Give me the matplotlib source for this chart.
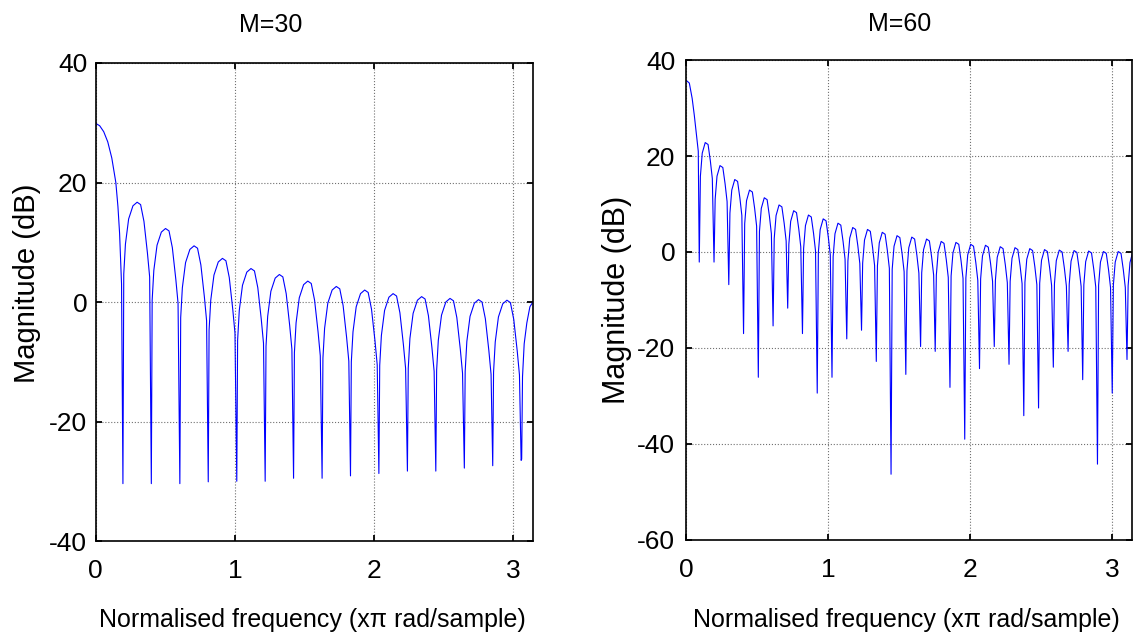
import numpy as np
import matplotlib
matplotlib.use('Agg')
import matplotlib.pyplot as plt
from matplotlib import font_manager

# M=30 response (x in rad/sample, y in dB)
freq30 = [0.000, 0.029, 0.058, 0.087, 0.116, 0.145, 0.160, 0.172, 0.186,
          0.196, 0.202, 0.214, 0.237, 0.268, 0.298, 0.323, 0.347, 0.372, 0.388,
          0.400, 0.406, 0.418, 0.441, 0.472, 0.502, 0.527, 0.551, 0.576, 0.592,
          0.605, 0.611, 0.623, 0.646, 0.677, 0.707, 0.732, 0.756, 0.781, 0.797,
          0.809, 0.815, 0.827, 0.850, 0.881, 0.911, 0.936, 0.960, 0.985, 1.001,
          1.014, 1.020, 1.032, 1.055, 1.086, 1.116, 1.141, 1.165, 1.190, 1.206,
          1.218, 1.224, 1.236, 1.259, 1.290, 1.320, 1.345, 1.369, 1.394, 1.410,
          1.422, 1.428, 1.440, 1.463, 1.494, 1.524, 1.549, 1.573, 1.598, 1.614,
          1.627, 1.633, 1.645, 1.668, 1.699, 1.729, 1.754, 1.778, 1.803, 1.819,
          1.831, 1.837, 1.849, 1.872, 1.903, 1.933, 1.958, 1.982, 2.007, 2.023,
          2.035, 2.041, 2.053, 2.076, 2.107, 2.137, 2.162, 2.186, 2.211, 2.227,
          2.240, 2.246, 2.258, 2.281, 2.312, 2.342, 2.367, 2.391, 2.416, 2.432,
          2.444, 2.450, 2.462, 2.485, 2.516, 2.546, 2.571, 2.595, 2.620, 2.636,
          2.649, 2.655, 2.667, 2.690, 2.721, 2.751, 2.776, 2.800, 2.825, 2.841,
          2.853, 2.859, 2.871, 2.894, 2.925, 2.955, 2.980, 3.004, 3.029, 3.045,
          3.057, 3.061, 3.067, 3.079, 3.098, 3.120, 3.1416]
mag30 = [29.9, 29.5, 28.5, 26.8, 24.1, 20.0, 16.0, 11.5, 3.0,
         -30.4, 4.7, 9.7, 13.9, 16.1, 16.7, 16.3, 13.5, 8.2, 4.2,
         -30.4, 0.3, 5.3, 9.5, 11.7, 12.3, 11.9, 9.1, 3.8, -0.2,
         -30.4, -2.6, 2.4, 6.6, 8.8, 9.4, 9.0, 6.2, 0.9, -3.1,
         -30.1, -4.7, 0.3, 4.5, 6.7, 7.3, 6.9, 4.1, -1.2, -5.2,
         -30.0, -6.4, -1.4, 2.8, 5.0, 5.6, 5.2, 2.4, -2.9, -6.9,
         -30.0, -7.4, -2.4, 1.8, 4.0, 4.6, 4.2, 1.4, -3.9, -7.9,
         -29.5, -8.5, -3.5, 0.7, 2.9, 3.5, 3.1, 0.3, -5.0, -9.0,
         -29.5, -9.4, -4.4, -0.2, 2.0, 2.6, 2.2, -0.6, -5.9, -9.9,
         -29.1, -10.0, -5.0, -0.8, 1.4, 2.0, 1.6, -1.2, -6.5, -10.5,
         -28.7, -10.6, -5.6, -1.4, 0.8, 1.4, 1.0, -1.8, -7.1, -11.1,
         -28.3, -11.1, -6.1, -1.9, 0.3, 0.9, 0.5, -2.3, -7.6, -11.6,
         -28.3, -11.4, -6.4, -2.2, 0.0, 0.6, 0.2, -2.6, -7.9, -11.9,
         -27.8, -11.6, -6.6, -2.4, -0.2, 0.4, 0.0, -2.8, -8.1, -12.1,
         -27.4, -11.7, -6.7, -2.5, -0.3, 0.3, -0.1, -2.9, -8.2, -12.2,
         -26.5, -26.3, -12.5, -7.0, -3.5, -0.8, 0.0]

# M=60 response
freq60 = [0.000, 0.020, 0.040, 0.055, 0.070, 0.083,
          0.090, 0.098, 0.111, 0.132, 0.152, 0.168, 0.182,
          0.194, 0.202, 0.215, 0.236, 0.256, 0.272, 0.286,
          0.298, 0.306, 0.319, 0.340, 0.360, 0.376, 0.390,
          0.402, 0.410, 0.423, 0.444, 0.464, 0.480, 0.494,
          0.506, 0.514, 0.527, 0.548, 0.568, 0.584, 0.598,
          0.610, 0.618, 0.631, 0.652, 0.672, 0.688, 0.702,
          0.713, 0.721, 0.734, 0.755, 0.775, 0.791, 0.805,
          0.817, 0.825, 0.838, 0.859, 0.879, 0.895, 0.909,
          0.921, 0.929, 0.942, 0.963, 0.983, 0.999, 1.013,
          1.025, 1.033, 1.046, 1.067, 1.087, 1.103, 1.117,
          1.129, 1.137, 1.150, 1.171, 1.191, 1.207, 1.221,
          1.233, 1.241, 1.254, 1.275, 1.295, 1.311, 1.325,
          1.337, 1.345, 1.358, 1.379, 1.399, 1.415, 1.429,
          1.441, 1.449, 1.462, 1.483, 1.503, 1.519, 1.533,
          1.545, 1.553, 1.566, 1.587, 1.607, 1.623, 1.637,
          1.649, 1.657, 1.670, 1.691, 1.711, 1.727, 1.741,
          1.752, 1.760, 1.773, 1.794, 1.814, 1.830, 1.844,
          1.856, 1.864, 1.877, 1.898, 1.918, 1.934, 1.948,
          1.960, 1.968, 1.981, 2.002, 2.022, 2.038, 2.052,
          2.064, 2.072, 2.085, 2.106, 2.126, 2.142, 2.156,
          2.168, 2.176, 2.189, 2.210, 2.230, 2.246, 2.260,
          2.272, 2.280, 2.293, 2.314, 2.334, 2.350, 2.364,
          2.376, 2.384, 2.397, 2.418, 2.438, 2.454, 2.468,
          2.480, 2.488, 2.501, 2.522, 2.542, 2.558, 2.572,
          2.584, 2.592, 2.605, 2.626, 2.646, 2.662, 2.676,
          2.688, 2.696, 2.709, 2.730, 2.750, 2.766, 2.780,
          2.791, 2.799, 2.812, 2.833, 2.853, 2.869, 2.883,
          2.895, 2.903, 2.916, 2.937, 2.957, 2.973, 2.987,
          2.999, 3.007, 3.020, 3.041, 3.061, 3.077, 3.091,
          3.103, 3.111, 3.124, 3.1416]
mag60 = [35.7, 35.2, 32.0, 28.5, 24.5, 21.0,
         -2.1, 15.8, 20.6, 22.8, 22.4, 19.0, 15.3,
         -2.1, 11.0, 15.8, 18.0, 17.6, 14.2, 10.5,
         -6.8, 8.1, 12.9, 15.1, 14.7, 11.3, 7.6,
         -17.0, 5.9, 10.7, 12.9, 12.5, 9.1, 5.4,
         -26.1, 4.3, 9.1, 11.3, 10.9, 7.5, 3.8,
         -15.4, 2.8, 7.6, 9.8, 9.4, 6.0, 2.3,
         -11.7, 1.6, 6.4, 8.6, 8.2, 4.8, 1.1,
         -17.0, 0.7, 5.5, 7.7, 7.3, 3.9, 0.2,
         -29.4, -0.1, 4.7, 6.9, 6.5, 3.1, -0.6,
         -26.1, -1.0, 3.8, 6.0, 5.6, 2.2, -1.5,
         -18.1, -1.9, 2.9, 5.1, 4.7, 1.3, -2.4,
         -16.3, -2.3, 2.5, 4.7, 4.3, 0.9, -2.8,
         -22.8, -2.9, 1.9, 4.1, 3.7, 0.3, -3.4,
         -46.3, -3.6, 1.2, 3.4, 3.0, -0.4, -4.1,
         -25.5, -3.9, 0.9, 3.1, 2.7, -0.7, -4.4,
         -19.7, -4.3, 0.5, 2.7, 2.3, -1.1, -4.8,
         -20.7, -4.8, 0.0, 2.2, 1.8, -1.6, -5.3,
         -28.2, -5.0, -0.2, 2.0, 1.6, -1.8, -5.5,
         -39.0, -5.4, -0.6, 1.6, 1.2, -2.2, -5.9,
         -24.3, -5.6, -0.8, 1.4, 1.0, -2.4, -6.1,
         -19.7, -5.9, -1.1, 1.1, 0.7, -2.7, -6.4,
         -23.4, -6.1, -1.3, 0.9, 0.5, -2.9, -6.6,
         -34.1, -6.3, -1.5, 0.7, 0.3, -3.1, -6.8,
         -32.5, -6.5, -1.7, 0.5, 0.1, -3.3, -7.0,
         -24.0, -6.6, -1.8, 0.4, 0.0, -3.4, -7.1,
         -20.7, -6.7, -1.9, 0.3, -0.1, -3.5, -7.2,
         -26.6, -6.8, -2.0, 0.2, -0.2, -3.6, -7.3,
         -44.2, -6.9, -2.1, 0.1, -0.3, -3.7, -7.4,
         -29.4, -6.9, -2.1, 0.1, -0.3, -3.7, -7.4,
         -22.4, -7.0, -2.2, -0.2]

titles = ['M=30', 'M=60']
xticks = [0, 1, 2, 3]
yticks30 = [-40, -20, 0, 20, 40]
yticks60 = [-60, -40, -20, 0, 20, 40]
xlab = 'Normalised frequency (x\u03c0 rad/sample)'
ylab = 'Magnitude (dB)'

names = {f.name for f in font_manager.fontManager.ttflist}
if 'Liberation Sans Narrow' in names:
    fam = ['Liberation Sans Narrow', 'Liberation Sans', 'DejaVu Sans']
    tsize, hsize, lsize = 20, 20, 21.5
else:
    fam = ['Liberation Sans', 'DejaVu Sans']
    tsize, hsize, lsize = 19, 18, 18
plt.rcParams['font.family'] = fam
plt.rcParams['axes.unicode_minus'] = False

fig = plt.figure(figsize=(11.36, 6.37), dpi=100)
ax1 = fig.add_axes([0.0842, 0.1507, 0.3849, 0.7504])
ax2 = fig.add_axes([0.6043, 0.1523, 0.3926, 0.7535])

ax1.plot(freq30, mag30, color='#0000ff', lw=0.8)
ax2.plot(freq60, mag60, color='#0000ff', lw=0.8)

for ax, yt, ypad in [(ax1, yticks30, 6), (ax2, yticks60, 8)]:
    ax.set_xlim(0, np.pi)
    ax.set_ylim(yt[0], yt[-1])
    ax.set_xticks(xticks)
    ax.set_yticks(yt)
    ax.grid(True, linestyle=':', color='#707070', linewidth=0.8)
    ax.tick_params(direction='in', top=True, right=True, length=4, width=1.3,
                   labelsize=tsize)
    ax.tick_params(axis='y', pad=ypad)
    ax.tick_params(axis='x', pad=13)
    for s in ax.spines.values():
        s.set_linewidth(1.2)

fig.text(0.2386, 0.961, titles[0], ha='center', va='center', fontsize=hsize)
fig.text(0.7923, 0.962, titles[1], ha='center', va='center', fontsize=hsize)
fig.text(0.2751, 0.0157, xlab, ha='center', va='baseline', fontsize=lsize)
fig.text(0.7980, 0.0157, xlab, ha='center', va='baseline', fontsize=lsize)
fig.text(0.0238, 0.5557, ylab, ha='center', va='center', rotation=90,
         fontsize=21, family=['Liberation Sans', 'DejaVu Sans'])
fig.text(0.5429, 0.5290, ylab, ha='center', va='center', rotation=90,
         fontsize=22, family=['Liberation Sans', 'DejaVu Sans'])

fig.savefig('out.png', dpi=100)
